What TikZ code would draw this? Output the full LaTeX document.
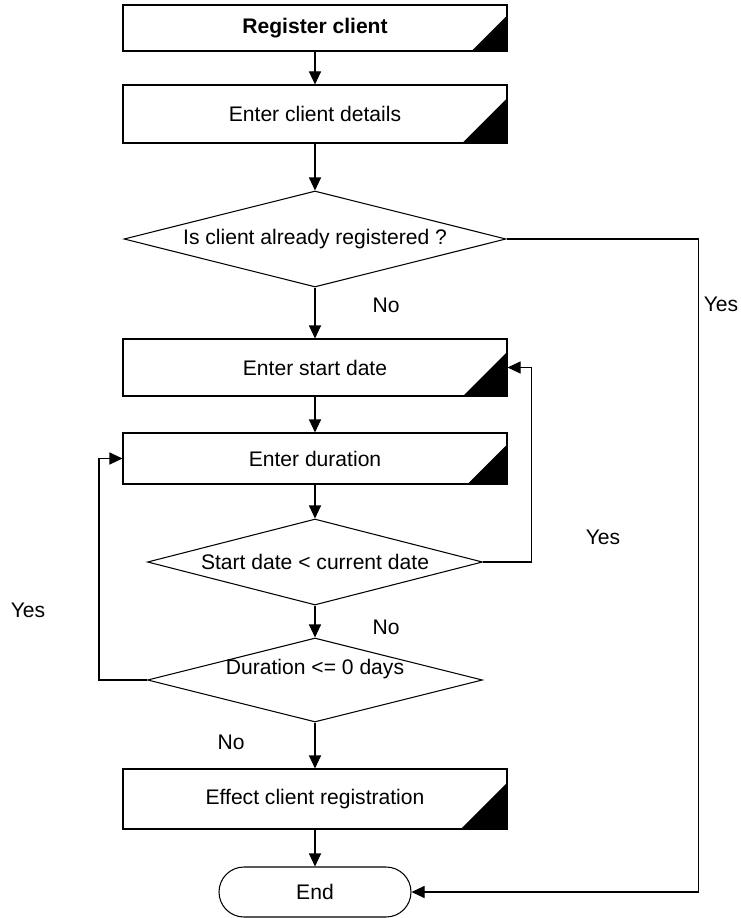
\documentclass[tikz,border=0pt]{standalone}
\usepackage{fontspec}
\setmainfont{Liberation Sans}
\usetikzlibrary{arrows.meta,positioning,calc,shapes.geometric}
\tikzset{
  proc/.style={draw, line width=0.6pt, minimum width=7.68cm, inner sep=0pt, align=center,
              path picture={\fill let \p1=(path picture bounding box.south east),
                \p2=(path picture bounding box.north east), \n1={0.77*(\y2-\y1)}
                in (\p1) -- (\x1-\n1,\y1) -- (\x1,\y1+\n1) -- cycle;}},
  decision/.style={draw, line width=0.6pt, diamond, aspect=4, inner sep=0pt, align=center},
  term/.style={draw, line width=0.6pt, rounded corners=0.5cm, minimum width=3.84cm,
              minimum height=1cm, inner sep=0pt},
  flow/.style={-{Triangle[length=2.6mm, width=2.4mm]}, line width=0.6pt},
}

\begin{document}
\begin{tikzpicture}[font=\fontsize{12}{14}\selectfont,
          lbl/.style={inner sep=0pt}]
        \useasboundingbox (0,0) rectangle (14.82,-18.36);
        \node[proc, minimum height=0.92cm] (reg) at (6.30,-0.56) {\bfseries Register client};
        \node[proc, minimum height=1.16cm] (det) at (6.30,-2.28) {Enter client details};
        \node[decision, minimum width=7.64cm, minimum height=1.92cm] (isreg) at (6.30,-4.78) {Is client already registered ?};
        \node[proc, minimum height=1.14cm] (sdate) at (6.30,-7.35) {Enter start date};
        \node[proc, minimum height=1.02cm] (dur) at (6.30,-9.17) {Enter duration};
        \node[decision, minimum width=6.70cm, minimum height=1.72cm] (chkdate) at (6.30,-11.24) {Start date < current date};
        \node[decision, minimum width=6.70cm, minimum height=1.68cm,
              label={[lbl, yshift=0.22cm]center:Duration <= 0 days}] (chkdur) at (6.30,-13.60) {};
        \node[proc, minimum height=1.20cm] (eff) at (6.30,-15.98) {Effect client registration};
        \node[term] (fin) at (6.30,-17.84) {End};
        % main line
        \draw[flow] (reg) -- (det);
        \draw[flow] (det) -- (isreg);
        \draw[flow] (isreg) -- (sdate);
        \draw[flow] (sdate) -- (dur);
        \draw[flow] (dur) -- (chkdate);
        \draw[flow] (chkdate) -- (chkdur);
        \draw[flow] (chkdur) -- (eff);
        \draw[flow] (eff) -- (fin);
        % loops back
        \draw[flow] (isreg.east) -- ++(3.84,0) |- (fin.east);
        \draw[flow] (chkdate.east) -- ++(0.96,0) |- (sdate.east);
        \draw[flow] (chkdur.west) -- ++(-0.96,0) |- (dur.west);
        \node[lbl] (no1) at (7.72,-6.10) {No};
        \node[lbl] (yes1) at (14.42,-6.08) {Yes};
        \node[lbl] (yes2) at (12.06,-10.74) {Yes};
        \node[lbl] (yes3) at (0.56,-12.20) {Yes};
        \node[lbl] (no2) at (7.72,-12.54) {No};
        \node[lbl] (no3) at (4.62,-14.84) {No};
      \end{tikzpicture}
\end{document}
